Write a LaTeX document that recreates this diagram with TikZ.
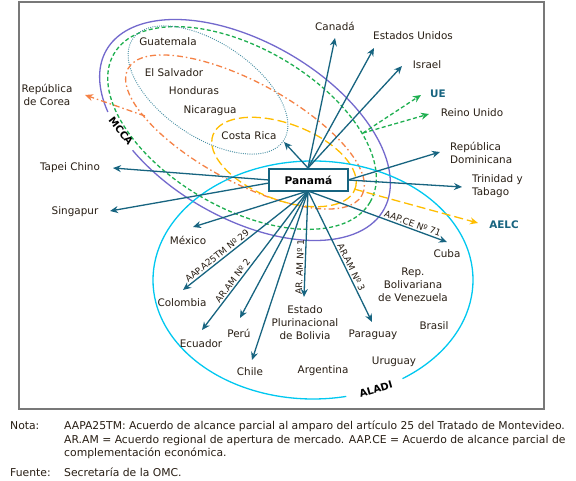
\documentclass[tikz,border=0pt]{standalone}
\usepackage{fontspec}
\setmainfont{DejaVu Sans}
\usetikzlibrary{arrows.meta}
\definecolor{arrowc}{RGB}{23,100,128}
\definecolor{mccac}{RGB}{115,105,205}
\definecolor{greenc}{RGB}{30,175,80}
\definecolor{dotc}{RGB}{75,145,165}
\definecolor{orangec}{RGB}{245,130,70}
\definecolor{yellowc}{RGB}{255,190,0}
\definecolor{cyanc}{RGB}{0,200,240}
\definecolor{txtc}{RGB}{40,30,20}
\definecolor{framec}{RGB}{120,120,120}
\begin{document}
\begin{tikzpicture}[x=1pt,y=-1pt,
  lbl/.style={font=\fontsize{10.4}{13}\selectfont, text=txtc, inner sep=0pt, align=center},
  lbll/.style={lbl, align=left, anchor=west},
  blbl/.style={font=\fontsize{10.4}{13}\selectfont\bfseries, text=arrowc, inner sep=0pt},
  glbl/.style={font=\fontsize{10}{12}\selectfont\bfseries, text=black, inner sep=0pt},
  elbl/.style={font=\fontsize{9}{11}\selectfont, text=txtc, inner sep=1.5pt, sloped, above},
  notes/.style={font=\fontsize{10.8}{13}\selectfont, text=txtc, inner sep=0pt, anchor=base west},
  arr/.style={draw=arrowc, line width=1.3pt, -{Stealth[length=8pt,width=7pt]}},
  garr/.style={draw=greenc, line width=1.3pt, dash pattern=on 4pt off 2.5pt, -{Stealth[length=8pt,width=7pt]}},
  oarr/.style={draw=orangec, line width=1.3pt, dash pattern=on 6pt off 3pt on 1.5pt off 3pt, -{Stealth[length=8pt,width=7pt]}},
  yarr/.style={draw=yellowc, line width=1.3pt, dash pattern=on 9pt off 4pt, -{Stealth[length=8pt,width=7pt]}},
  mccaline/.style={draw=mccac, line width=1.3pt},
  greenline/.style={draw=greenc, line width=1.3pt, dash pattern=on 4pt off 2.5pt},
  dotline/.style={draw=dotc, line width=1.3pt, line cap=round, dash pattern=on 0pt off 2.2pt},
  orangeline/.style={draw=orangec, line width=1.3pt, dash pattern=on 6pt off 3pt on 1.5pt off 3pt},
  yellowline/.style={draw=yellowc, line width=1.3pt, dash pattern=on 9pt off 4pt},
  cyanline/.style={draw=cyanc, line width=1.3pt},
  boxst/.style={draw=arrowc, line width=1.5pt, fill=white, minimum width=79pt, minimum height=22pt, inner sep=0pt, font=\fontsize{10.6}{13}\selectfont\bfseries, text=black}
]
\useasboundingbox (0,0) rectangle (576,481);
\fill[white] (0,0) rectangle (576,481);
\draw[framec, line width=1.2pt] (19,2) rectangle (544,409);

% ellipses
\begin{scope}[shift={(245,130)}, rotate=-30]
  \draw[mccaline] (237:160pt and 88pt) arc[start angle=237, end angle=577, x radius=160pt, y radius=88pt];
\end{scope}
\begin{scope}[shift={(242,128)}, rotate=-30]
  \draw[greenline] (0,0) ellipse [x radius=148pt, y radius=80pt];
\end{scope}
\begin{scope}[shift={(208,90)}, rotate=-34]
  \draw[dotline] (0,0) ellipse [x radius=91pt, y radius=47pt];
\end{scope}
\begin{scope}[shift={(245,132)}, rotate=-28.4]
  \draw[orangeline] (0,0) ellipse [x radius=133pt, y radius=50pt];
\end{scope}
\begin{scope}[shift={(284,162)}, rotate=-21]
  \draw[yellowline] (0,0) ellipse [x radius=76pt, y radius=38pt];
\end{scope}
\begin{scope}[shift={(313,280)}]
  \draw[cyanline] (304:160pt and 119pt) arc[start angle=304, end angle=642, x radius=160pt, y radius=119pt];
\end{scope}

% origins
\coordinate (pt) at (308,168);
\coordinate (pb) at (308,191);
\coordinate (plA) at (269,180);
\coordinate (plB) at (269,183);
\coordinate (pr) at (348,180);
\coordinate (gs) at (363,133);
\coordinate (ys) at (354,189);
\coordinate (os) at (145,116);

% tips
\coordinate (tCan) at (335,38);
\coordinate (tUS) at (374,48);
\coordinate (tIsr) at (402,66);
\coordinate (tCR) at (284,142);
\coordinate (tTap) at (113,168);
\coordinate (tSin) at (110,211);
\coordinate (tDom) at (440,152);
\coordinate (tTri) at (462,187);
\coordinate (tMex) at (193,227);
\coordinate (tCol) at (183,290);
\coordinate (tEcu) at (202,330);
\coordinate (tPer) at (240,318);
\coordinate (tChi) at (252,360);
\coordinate (tBol) at (304,297);
\coordinate (tPar) at (372,322);
\coordinate (tCub) at (447,242);
\coordinate (tUE) at (421,95);
\coordinate (tRU) at (429,114);
\coordinate (tAELC) at (478,223);
\coordinate (tCor) at (85,95);

% connectors
\draw[oarr] (os) -- (tCor);
\draw[garr] (gs) -- (tUE);
\draw[garr] (gs) -- (tRU);
\draw[yarr] (ys) -- (tAELC);
\draw[arr] (pt) -- (tCan);
\draw[arr] (pt) -- (tUS);
\draw[arr] (pt) -- (tIsr);
\draw[arr] (pt) -- (tCR);
\draw[arr] (plA) -- (tTap);
\draw[arr] (plB) -- (tSin);
\draw[arr] (pr) -- (tDom);
\draw[arr] (pr) -- (tTri);
\draw[arr] (pb) -- (tMex);
\draw[arr] (pb) -- node[elbl, pos=0.7] {AAP.A25TM Nº 29} (tCol);
\draw[arr] (pb) -- node[elbl, pos=0.67] {AR.AM Nº 2} (tEcu);
\draw[arr] (pb) -- (tPer);
\draw[arr] (pb) -- (tChi);
\draw[arr] (pb) -- node[elbl, pos=0.72] {AR. AM Nº 1} (tBol);
\draw[arr] (pb) -- node[elbl, pos=0.6] {AR.AM Nº 3} (tPar);
\draw[arr] (pb) -- node[elbl, pos=0.74] {AAP.CE Nº 71} (tCub);

% Panama box
\node[boxst] (pan) at (308.5,180) {Panamá};

% labels
\node[lbl] (canada) at (335,26) {Canadá};
\node[lbl] (eeuu) at (413,36) {Estados Unidos};
\node[lbl] (israel) at (427,65) {Israel};
\node[blbl] (ue) at (438,94) {UE};
\node[lbl] (reino) at (472,113) {Reino Unido};
\node[lbll] (domrep) at (450,152.5) {República\\Dominicana};
\node[lbll] (trinidad) at (472,186.5) {Trinidad y\\Tabago};
\node[blbl] (aelc) at (504,225) {AELC};
\node[lbl] (cuba) at (447,254) {Cuba};
\node[lbl] (venez) at (413,285) {Rep.\\Bolivariana\\de Venezuela};
\node[lbl] (brasil) at (434,326) {Brasil};
\node[lbl] (uruguay) at (394,362) {Uruguay};
\node[lbl] (argentina) at (323,371) {Argentina};
\node[lbl] (paraguay) at (373,335) {Paraguay};
\node[lbl] (bolivia) at (305,323) {Estado\\Plurinacional\\de Bolivia};
\node[lbl] (chile) at (250,372) {Chile};
\node[lbl] (peru) at (239,333) {Perú};
\node[lbl] (ecuador) at (201,344) {Ecuador};
\node[lbl] (colombia) at (182,303) {Colombia};
\node[lbl] (mexico) at (188,240) {México};
\node[lbl] (singapur) at (75,212) {Singapur};
\node[lbl] (tapei) at (70,168) {Tapei Chino};
\node[lbl] (corea) at (47,94.5) {República\\de Corea};
\node[lbl] (guatemala) at (168,42) {Guatemala};
\node[lbl] (elsalvador) at (174,73) {El Salvador};
\node[lbl] (honduras) at (194,91) {Honduras};
\node[lbl] (nicaragua) at (210,111) {Nicaragua};
\node[lbl] (costarica) at (249,136) {Costa Rica};
\node[glbl, rotate=-52] (mcca) at (121,131) {MCCA};
\node[glbl, rotate=16] (aladi) at (376,389) {ALADI};

% notes
\node[notes] (nota) at (10,429) {Nota:};
\node[notes] (n1) at (64,429) {AAPA25TM: Acuerdo de alcance parcial al amparo del artículo 25 del Tratado de Montevideo.};
\node[notes] (n2) at (64,443) {AR.AM = Acuerdo regional de apertura de mercado. AAP.CE = Acuerdo de alcance parcial de};
\node[notes] (n3) at (64,456.5) {complementación económica.};
\node[notes] (fuente) at (10,476) {Fuente:};
\node[notes] (n4) at (64,476) {Secretaría de la OMC.};
\end{tikzpicture}
\end{document}
